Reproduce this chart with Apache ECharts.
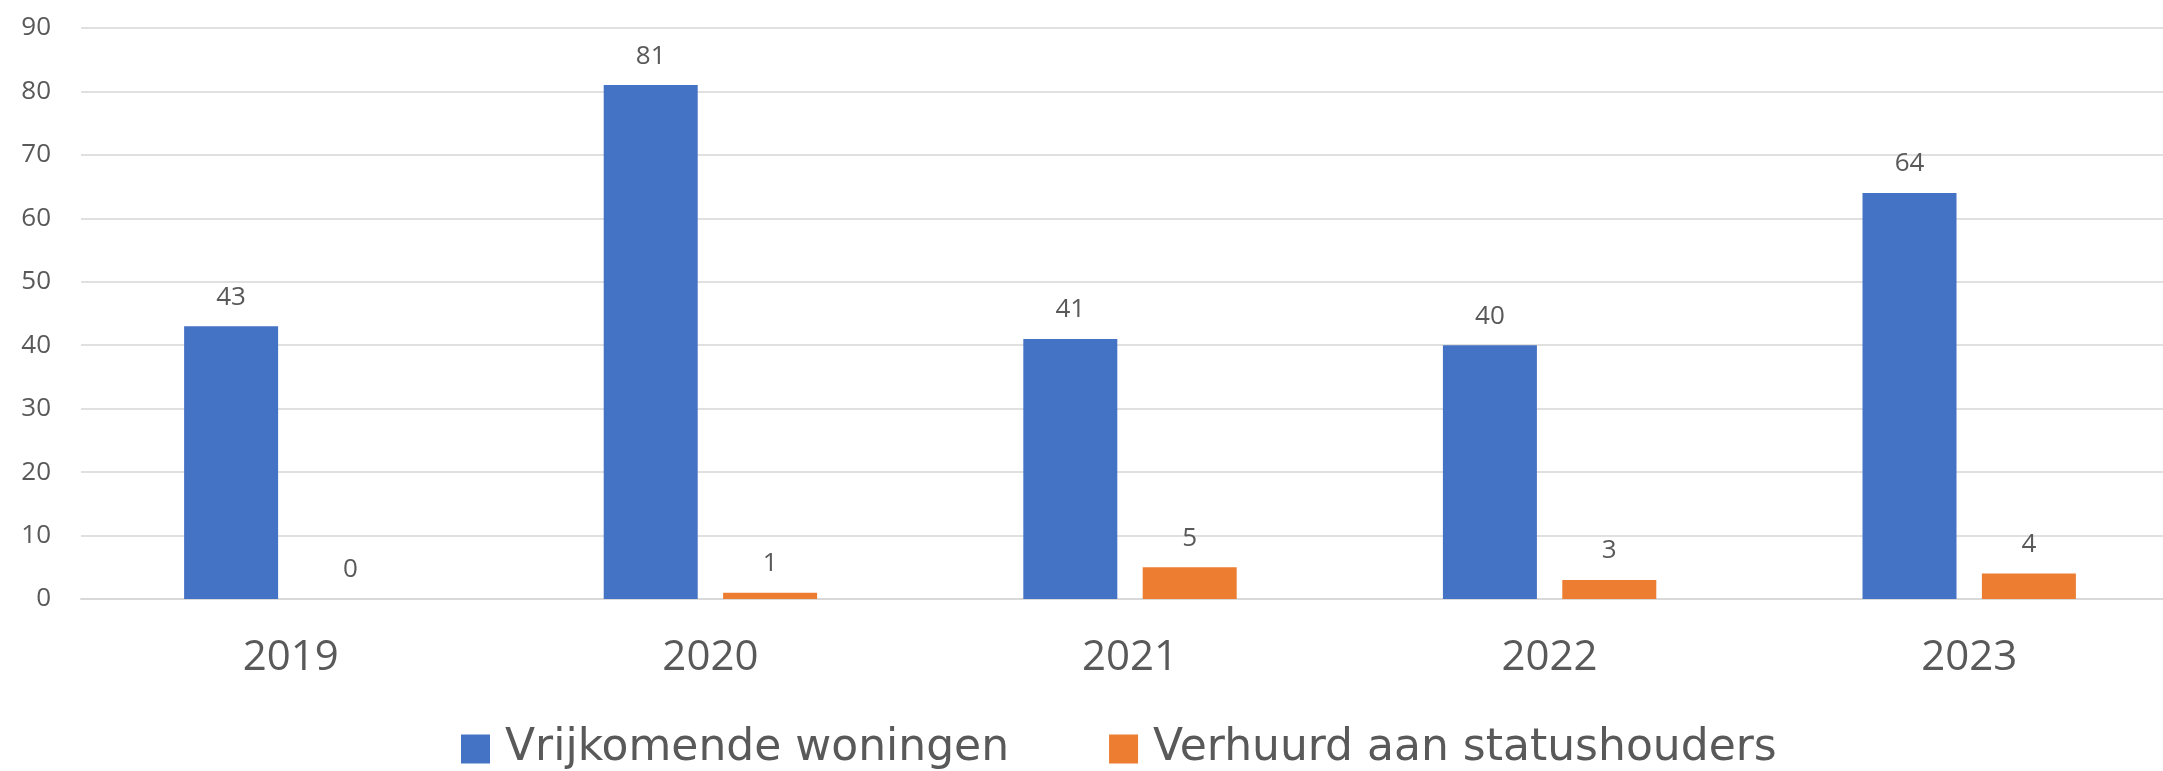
<!DOCTYPE html>
<html>
<head>
<meta charset="utf-8">
<script src="https://cdn.jsdelivr.net/npm/echarts@6/dist/echarts.min.js"></script>
<style>
html,body{margin:0;padding:0;background:#fff;overflow:hidden;width:2163px;height:771px;}
#chart{width:2179px;height:771px;}
</style>
</head>
<body>
<div id="chart"></div>
<script>
const years = ['2019', '2020', '2021', '2022', '2023'];
const vrijkomend = [43, 81, 41, 40, 64];
const statushouders = [0, 1, 5, 3, 4];
const seriesNames = ['Vrijkomende woningen', 'Verhuurd aan statushouders'];

const FONT = '"Open Sans", "Noto Sans", sans-serif';
const LEGEND_FONT = '"DejaVu Sans", "Open Sans", sans-serif';
const chart = echarts.init(document.getElementById('chart'));
chart.setOption({
  animation: false,
  backgroundColor: '#ffffff',
  textStyle: { fontFamily: FONT },
  grid: { left: 81, right: 0, top: 28, bottom: 172, containLabel: false },
  legend: {
    left: 456, top: 722,
    itemWidth: 29, itemHeight: 29, itemGap: 100,
    icon: 'rect',
    textStyle: { fontSize: 44, color: '#595959', fontFamily: LEGEND_FONT, padding: [0, 0, 0, 10] },
    data: seriesNames
  },
  xAxis: {
    type: 'category',
    data: years,
    axisLine: { show: true, lineStyle: { color: '#d9d9d9', width: 2 } },
    axisTick: { show: false },
    axisLabel: { fontSize: 42, color: '#595959', margin: 38, fontFamily: FONT }
  },
  yAxis: {
    type: 'value',
    min: 0, max: 90, interval: 10,
    axisLine: { show: false },
    axisTick: { show: false },
    splitLine: { lineStyle: { color: '#e0e0e0', width: 2 } },
    axisLabel: { fontSize: 26, color: '#595959', margin: 30, fontFamily: FONT }
  },
  series: [
    {
      name: seriesNames[0], type: 'bar', data: vrijkomend,
      barWidth: 94, barGap: '27%',
      itemStyle: { color: '#4472C4' },
      label: { show: true, position: 'top', distance: 16, fontSize: 26, color: '#595959', fontFamily: FONT }
    },
    {
      name: seriesNames[1], type: 'bar', data: statushouders,
      barWidth: 94,
      itemStyle: { color: '#ED7D31' },
      label: { show: true, position: 'top', distance: 16, fontSize: 26, color: '#595959', fontFamily: FONT }
    }
  ]
});
</script>
</body>
</html>
